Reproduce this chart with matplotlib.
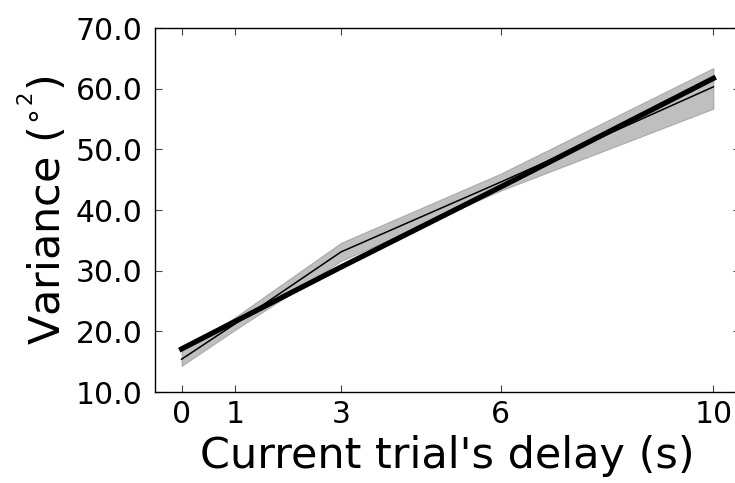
import matplotlib
matplotlib.use('Agg')
import matplotlib.pyplot as plt

""" Variance vs delay """
delays = [0, 1, 3, 6, 10]
var_fit = [17.1, 21.6, 30.6, 43.8, 61.7]
var_data = [15.4, 21.2, 33.1, 44.6, 60.3]
var_low = [14.3, 20.2, 31.6, 43.2, 56.7]
var_high = [16.8, 22.3, 34.6, 46.0, 63.4]

fig = plt.figure(figsize=(7.35, 4.83), dpi=100)
ax = fig.add_axes([155 / 735, 91 / 483, 585 / 735, 364 / 483])

ax.fill_between(delays, var_low, var_high, color='gray', alpha=0.5, lw=0.8)
ax.plot(delays, var_data, color='k', lw=1.1)
ax.plot(delays, var_fit, color='k', lw=3.8)

ax.set_xlim(-0.5, 10.5)
ax.set_ylim(10, 70)
ax.set_xticks(delays)
ax.set_yticks(range(10, 71, 10))
ax.set_yticklabels(['%.1f' % v for v in range(10, 71, 10)])
ax.tick_params(direction='in', length=5, width=0.8, color='#444444',
               top=True, right=True, labelsize=21.5)
ax.tick_params(axis='x', pad=6)
ax.tick_params(axis='y', pad=9)
for s in ax.spines.values():
    s.set_linewidth(1.0)

ax.set_xlabel("Current trial's delay (s)", fontsize=31, labelpad=4)
ax.set_ylabel(r'Variance ($^{\circ^2}$)', fontsize=31, labelpad=4)

fig.savefig('out.png', dpi=100)
